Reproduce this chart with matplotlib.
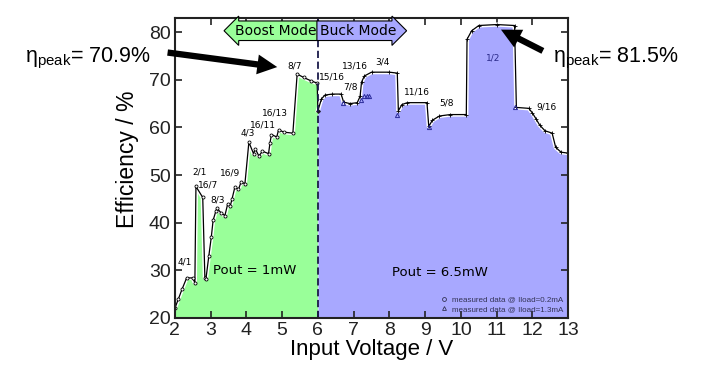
import matplotlib
matplotlib.use("Agg")
import matplotlib.pyplot as plt
from matplotlib.lines import Line2D

plt.rcParams['font.family'] = ['Liberation Sans', 'DejaVu Sans']
plt.rcParams['mathtext.fontset'] = 'custom'
plt.rcParams['mathtext.rm'] = 'Liberation Sans'

# boost mode, Iload = 0.2mA
boost_v = [2.0, 2.1, 2.2, 2.33, 2.5, 2.56, 2.59, 2.78, 2.84, 2.87, 2.95, 3.02, 3.07,
           3.15, 3.18, 3.3, 3.4, 3.48, 3.55, 3.6, 3.68, 3.78, 3.85, 3.96, 4.07, 4.2,
           4.25, 4.35, 4.45, 4.62, 4.66, 4.7, 4.85, 4.9, 5.05, 5.3, 5.42, 5.6, 5.8, 5.98]
boost_eff = [22.0, 24.0, 26.0, 28.4, 28.4, 27.4, 47.6, 45.3, 28.4, 28.2, 33.0, 37.0, 40.5,
             42.5, 43.0, 42.0, 41.5, 44.0, 43.5, 45.0, 47.5, 47.0, 48.5, 48.2, 56.9, 54.5,
             55.5, 54.0, 55.0, 54.5, 56.7, 58.5, 58.0, 59.5, 59.0, 58.8, 71.2, 70.5, 69.8, 69.3]

# buck mode
buck_v = [6.0, 6.1, 6.2, 6.4, 6.65, 6.72, 6.9, 7.1, 7.18, 7.22, 7.3, 7.5, 8.0, 8.22,
          8.25, 8.35, 8.5, 9.05, 9.1, 9.2, 9.4, 9.7, 10.15, 10.17, 10.3, 10.5, 11.0,
          11.5, 11.55, 11.9, 12.0, 12.1, 12.2, 12.35, 12.55, 12.65, 12.8, 13.0]
buck_eff = [63.5, 66.0, 66.8, 67.0, 67.0, 65.3, 65.0, 65.2, 66.5, 69.5, 70.8, 71.6, 71.6, 71.4,
            63.5, 64.8, 65.2, 65.2, 60.2, 61.5, 62.4, 62.7, 62.7, 78.5, 80.3, 81.4, 81.6,
            81.4, 64.2, 64.0, 63.0, 61.8, 60.5, 59.3, 58.8, 55.8, 54.8, 54.6]

# Iload = 1.3mA points
tri_v = [6.7, 7.2, 7.3, 7.37, 7.44, 8.22, 9.11, 11.52]
tri_eff = [65.1, 65.7, 66.5, 66.6, 66.6, 62.6, 60.0, 64.2]

ratio_labels = ['4/1', '2/1', '16/7', '8/3', '16/9', '4/3', '16/11', '16/13', '8/7',
                '15/16', '7/8', '13/16', '3/4', '11/16', '5/8', '1/2', '9/16']
ratio_v = [2.28, 2.7, 2.92, 3.2, 3.54, 4.05, 4.45, 4.8, 5.36,
           6.4, 6.9, 7.04, 7.8, 8.78, 9.6, 10.9, 12.4]
ratio_eff = [31.7, 50.6, 47.9, 44.7, 50.4, 58.8, 60.5, 63.0, 73.0,
             70.5, 68.4, 73.0, 73.7, 67.4, 65.1, 74.5, 64.2]

green = '#99ff99'
blue = '#a8a8ff'

fig = plt.figure(figsize=(7.05, 3.65), dpi=100)
ax = fig.add_axes([0.248, 0.129, 0.558, 0.822])

ax.fill_between(boost_v, 20, boost_eff, color=green, lw=0)
ax.fill_between([5.98, 6.0], 20, [69.3, 69.3], color=green, lw=0)
ax.fill_between(buck_v, 20, buck_eff, color=blue, lw=0)

ax.plot(boost_v, boost_eff, color='white', lw=3, solid_joinstyle='round')
ax.plot(buck_v, buck_eff, color='white', lw=3, solid_joinstyle='round')
ax.plot(boost_v + buck_v[:1], boost_eff + buck_eff[:1], color='black', lw=0.9,
        marker='o', ms=2.2, mfc='white', mec='black', mew=0.6)
ax.plot(buck_v, buck_eff, color='black', lw=0.9, marker='+', ms=3, mew=0.6)
ax.plot(tri_v, tri_eff, ls='none', marker='^', ms=3, mfc='none', mec='#2a2a9a', mew=0.7)

ax.axvline(6, color='#1a1a4a', lw=1.3, ls=(0, (4, 2)))

for lab, v, e in zip(ratio_labels, ratio_v, ratio_eff):
    col = '#2a2a8a' if lab == '1/2' else 'black'
    ax.text(v, e, lab, fontsize=6.5, ha='center', va='center', color=col,
            family='DejaVu Sans')

ax.text(6 - 0.05, 80.3, 'Boost Mode', fontsize=10, ha='right', va='center',
        family='DejaVu Sans',
        bbox=dict(boxstyle='larrow,pad=0.2', fc=green, ec='black', lw=0.8))
ax.text(6 + 0.05, 80.3, 'Buck Mode', fontsize=10, ha='left', va='center',
        family='DejaVu Sans',
        bbox=dict(boxstyle='rarrow,pad=0.2', fc=blue, ec='black', lw=0.8))

ax.text(4.24, 29.9, 'Pout = 1mW', fontsize=9.5, ha='center', va='center',
        family='DejaVu Sans')
ax.text(9.42, 29.6, 'Pout = 6.5mW', fontsize=9.5, ha='center', va='center',
        family='DejaVu Sans')

handles = [Line2D([], [], ls='none', marker='o', ms=2.8, mfc='none', mec='#333355', mew=0.6),
           Line2D([], [], ls='none', marker='^', ms=2.8, mfc='none', mec='#333355', mew=0.6)]
ax.legend(handles, ['measured data @ Iload=0.2mA', 'measured data @ Iload=1.3mA'],
          loc='lower right', fontsize=5.8, frameon=False, handlelength=0.8,
          handletextpad=0.6, labelspacing=0.25, borderaxespad=0.2,
          labelcolor='#333355')

arrow = dict(arrowstyle='simple,head_width=1.1,head_length=1.1,tail_width=0.35',
             mutation_scale=13, color='black', lw=0)
ax.annotate('', xy=(4.94, 72.6), xytext=(1.72, 75.8), arrowprops=arrow,
            annotation_clip=False)
ax.annotate('', xy=(11.05, 80.8), xytext=(12.36, 75.8), arrowprops=arrow,
            annotation_clip=False)

fig.text(25 / 705, 1 - 62 / 365, r'$\mathregular{η_{peak}}$= 70.9%', fontsize=15.5,
         va='baseline')
fig.text(553 / 705, 1 - 62 / 365, r'$\mathregular{η_{peak}}$= 81.5%', fontsize=15.5,
         va='baseline')

ax.set_xlim(2, 13)
ax.set_ylim(20, 83)
ax.set_xticks(range(2, 14))
ax.set_yticks(range(20, 81, 10))
ax.tick_params(direction='in', top=True, right=True, length=5, width=1.2,
               labelsize=14, colors='#222222')
ax.tick_params(axis='x', pad=3)
ax.tick_params(axis='y', pad=3)
for s in ax.spines.values():
    s.set_linewidth(1.5)
    s.set_color('#222222')

ax.set_xlabel('Input Voltage / V', fontsize=16, labelpad=0)
ax.set_ylabel('Efficiency / %', fontsize=16.5)
ax.yaxis.set_label_coords(-0.09, 0.53)

fig.savefig('out.png', dpi=100)
